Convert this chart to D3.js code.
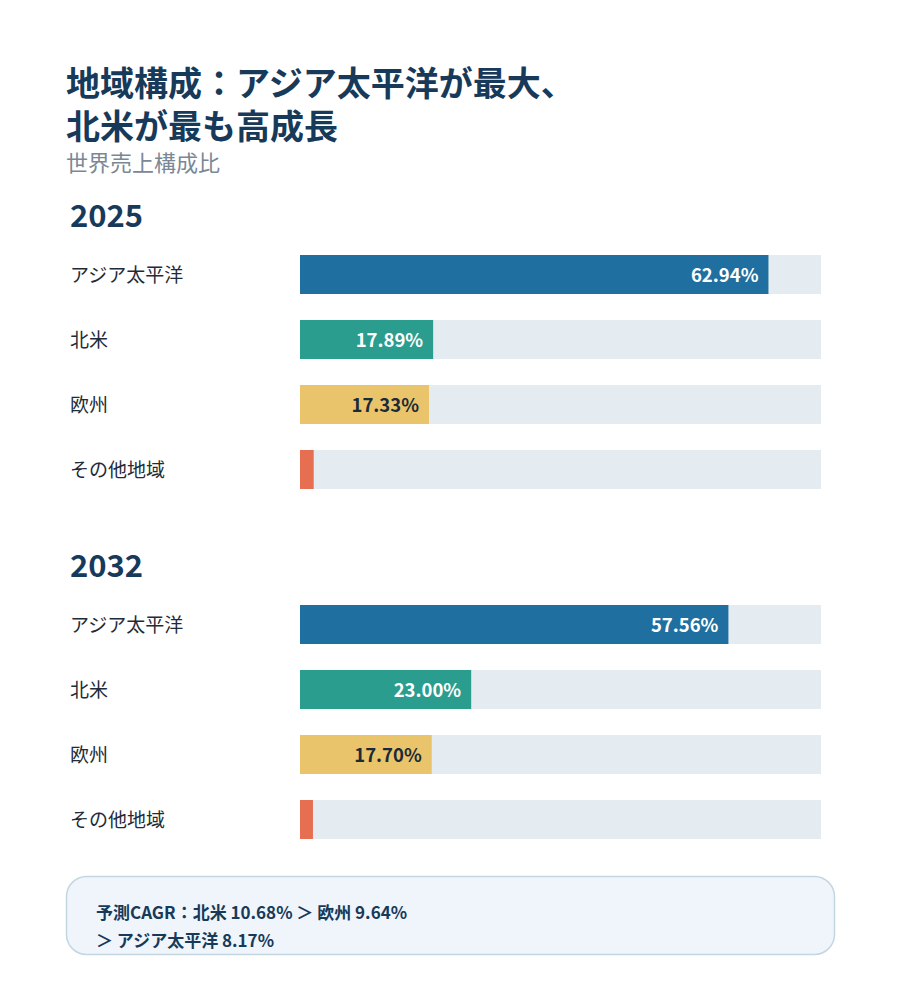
<!DOCTYPE html>
<html>
<head>
<meta charset="utf-8">
<script src="https://cdn.jsdelivr.net/npm/d3@7"></script>
<style>
  body { margin: 0; background: #fff; }
  svg text { font-family: "Noto Sans CJK JP", "Noto Sans", sans-serif; }
</style>
</head>
<body>
<div id="chart"></div>
<script>
const regions = ["アジア太平洋", "北米", "欧州", "その他地域"];
const regionColors = ["#1f6fa0", "#2a9d8f", "#e9c46a", "#e76f51"];
const labelColors = ["#ffffff", "#ffffff", "#1b2a38", "#ffffff"];
const years = ["2025", "2032"];
const share2025 = [62.94, 17.89, 17.33, 1.84];
const share2032 = [57.56, 23.00, 17.70, 1.74];
const titleLines = ["地域構成：アジア太平洋が最大、", "北米が最も高成長"];
const subtitle = "世界売上構成比";
const noteLines = ["予測CAGR：北米 10.68% ＞ 欧州 9.64%", "＞ アジア太平洋 8.17%"];

const width = 900;
const height = 1000;
const navy = "#183a5a";

const svg = d3.select("#chart")
  .append("svg")
  .attr("width", width)
  .attr("height", height);

// Title block
svg.selectAll("text.title")
  .data(titleLines)
  .enter()
  .append("text")
  .attr("class", "title")
  .attr("x", 66)
  .attr("y", (_, i) => 96 + i * 43)
  .attr("fill", navy)
  .attr("font-size", "34px")
  .attr("font-weight", 700)
  .text((d) => d);

svg.append("text")
  .attr("x", 66)
  .attr("y", 171)
  .attr("fill", "#7a8896")
  .attr("font-size", "22px")
  .text(subtitle);

// Shared x scale: the track spans 0..70%
const x = d3.scaleLinear().domain([0, 70]).range([300, 821]);

const panels = [
  { year: years[0], values: share2025, top: 200 },
  { year: years[1], values: share2032, top: 550 },
];

panels.forEach((panel) => {
  const g = svg.append("g");

  g.append("text")
    .attr("x", 70)
    .attr("y", panel.top + 27)
    .attr("fill", navy)
    .attr("font-size", "31px")
    .attr("font-weight", 700)
    .text(panel.year);

  const y = d3.scaleBand()
    .domain(regions)
    .range([panel.top + 42, panel.top + 42 + 65 * regions.length])
    .paddingInner(0.4)
    .paddingOuter(0.2);

  const rows = g.selectAll("g.row")
    .data(regions.map((r, i) => ({ region: r, value: panel.values[i], i })))
    .enter()
    .append("g")
    .attr("class", "row");

  rows.append("text")
    .attr("x", 70)
    .attr("y", (d) => y(d.region) + y.bandwidth() / 2)
    .attr("dy", "0.42em")
    .attr("fill", "#1e2b38")
    .attr("font-size", "19px")
    .text((d) => d.region);

  rows.append("rect")
    .attr("x", x(0))
    .attr("y", (d) => y(d.region))
    .attr("width", x(70) - x(0))
    .attr("height", y.bandwidth())
    .attr("fill", "#e5ecf1");

  rows.append("rect")
    .attr("x", x(0))
    .attr("y", (d) => y(d.region))
    .attr("width", (d) => x(d.value) - x(0))
    .attr("height", y.bandwidth())
    .attr("fill", (d) => regionColors[d.i]);

  // Value labels only where the bar is wide enough
  rows.filter((d) => d.value > 5)
    .append("text")
    .attr("x", (d) => x(d.value) - 10)
    .attr("y", (d) => y(d.region) + y.bandwidth() / 2)
    .attr("dy", "0.42em")
    .attr("text-anchor", "end")
    .attr("fill", (d) => labelColors[d.i])
    .attr("font-size", "18.5px")
    .attr("font-weight", 700)
    .text((d) => d.value.toFixed(2) + "%");
});

// CAGR note box
svg.append("rect")
  .attr("x", 66.5)
  .attr("y", 876.5)
  .attr("width", 768)
  .attr("height", 78)
  .attr("rx", 20)
  .attr("fill", "#eff5fa")
  .attr("stroke", "#c3d7e2")
  .attr("stroke-width", 1.5);

svg.selectAll("text.note")
  .data(noteLines)
  .enter()
  .append("text")
  .attr("class", "note")
  .attr("x", 96)
  .attr("y", (_, i) => 919 + i * 28)
  .attr("fill", navy)
  .attr("font-size", "17px")
  .attr("font-weight", 700)
  .text((d) => d);
</script>
</body>
</html>
